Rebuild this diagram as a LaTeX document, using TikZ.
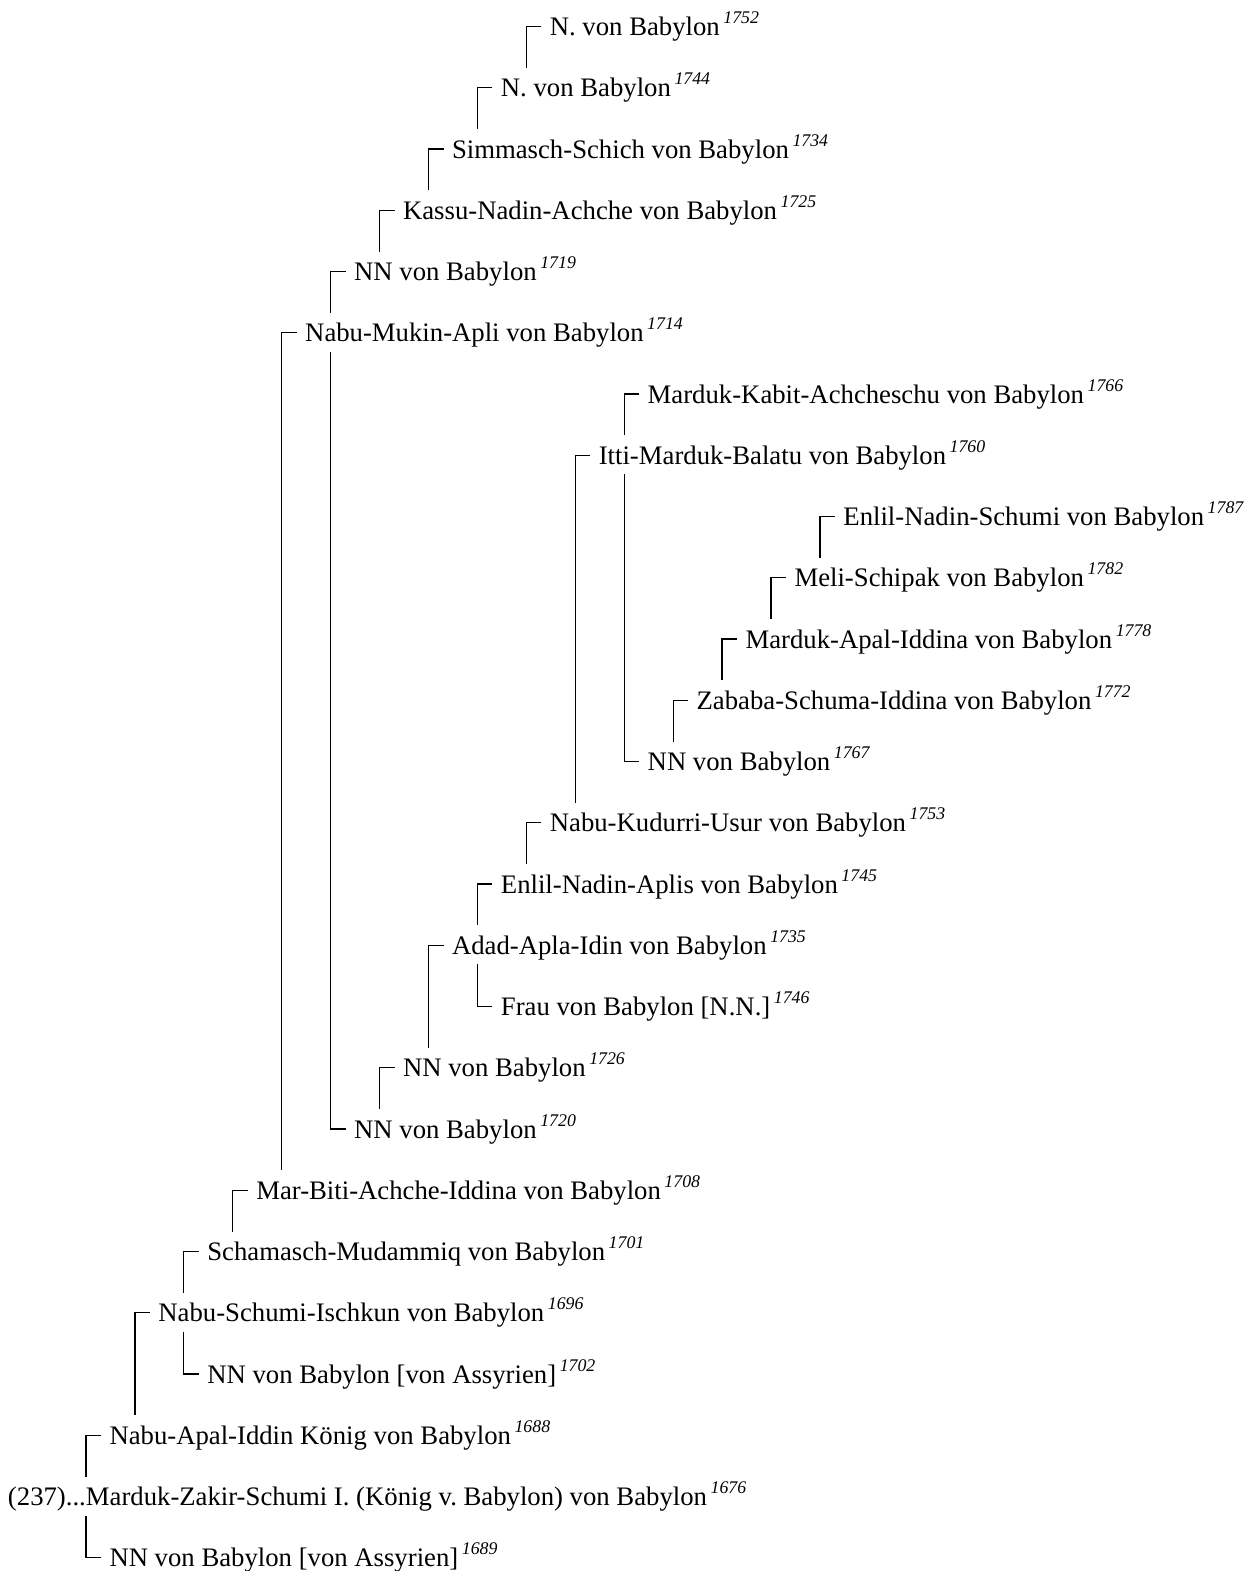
\documentclass[tikz,border=0pt]{standalone}
\usepackage{fontspec}
\setmainfont{Liberation Serif}
\usetikzlibrary{calc}
\frenchspacing
\newcommand\yr[1]{\kern1.8pt\raisebox{6.0pt}{\fontsize{8.9pt}{10pt}\selectfont\itshape #1}}
\newcommand\upcon[2]{%
  \coordinate (cA) at ($(#1.base west)+(-23.5,-9)$);
  \coordinate (cB) at ($(#2.base west)+(0,-29)$);
  \draw[conn] ($(cA)+(15,0)$) -- (cA) -- (cA |- cB);}
\newcommand\downcon[2]{%
  \coordinate (cA) at ($(#1.base west)+(-23.5,-9)$);
  \coordinate (cB) at ($(#2.base west)+(0,10)$);
  \draw[conn] (cA |- cB) -- (cA) -- ($(cA)+(15,0)$);}
\begin{document}
\begin{tikzpicture}[x=0.5pt,y=-0.5pt,
  person/.style={anchor=base west,inner sep=0pt,outer sep=0pt,font=\fontsize{13.36pt}{15pt}\selectfont},
  conn/.style={line width=0.6pt,black}]
\useasboundingbox (0,0) rectangle (1249,1571);
\node[person] (r1) at (549.87,35.5) {N. von Babylon\yr{1752}};
\node[person] (r2) at (500.94,96.75) {N. von Babylon\yr{1744}};
\node[person] (r3) at (452.01,158) {Simmasch-Schich von Babylon\yr{1734}};
\node[person] (r4) at (403.08,219.25) {Kassu-Nadin-Achche von Babylon\yr{1725}};
\node[person] (r5) at (354.15,280.5) {NN von Babylon\yr{1719}};
\node[person] (r6) at (305.22,341.75) {Nabu-Mukin-Apli von Babylon\yr{1714}};
\node[person] (r7) at (647.73,403) {Marduk-Kabit-Achcheschu von Babylon\yr{1766}};
\node[person] (r8) at (598.8,464.25) {Itti-Marduk-Balatu von Babylon\yr{1760}};
\node[person] (r9) at (843.45,525.5) {Enlil-Nadin-Schumi von Babylon\yr{1787}};
\node[person] (r10) at (794.52,586.75) {Meli-Schipak von Babylon\yr{1782}};
\node[person] (r11) at (745.59,648) {Marduk-Apal-Iddina von Babylon\yr{1778}};
\node[person] (r12) at (696.66,709.25) {Zababa-Schuma-Iddina von Babylon\yr{1772}};
\node[person] (r13) at (647.73,770.5) {NN von Babylon\yr{1767}};
\node[person] (r14) at (549.87,831.75) {Nabu-Kudurri-Usur von Babylon\yr{1753}};
\node[person] (r15) at (500.94,893) {Enlil-Nadin-Aplis von Babylon\yr{1745}};
\node[person] (r16) at (452.01,954.25) {Adad-Apla-Idin von Babylon\yr{1735}};
\node[person] (r17) at (500.94,1015.5) {Frau von Babylon [N.N.]\yr{1746}};
\node[person] (r18) at (403.08,1076.75) {NN von Babylon\yr{1726}};
\node[person] (r19) at (354.15,1138) {NN von Babylon\yr{1720}};
\node[person] (r20) at (256.29,1199.25) {Mar-Biti-Achche-Iddina von Babylon\yr{1708}};
\node[person] (r21) at (207.36,1260.5) {Schamasch-Mudammiq von Babylon\yr{1701}};
\node[person] (r22) at (158.43,1321.75) {Nabu-Schumi-Ischkun von Babylon\yr{1696}};
\node[person] (r23) at (207.36,1383) {NN von Babylon [von Assyrien]\yr{1702}};
\node[person] (r24) at (109.5,1444.25) {Nabu-Apal-Iddin König von Babylon\yr{1688}};
\node[person] (r25) at (8,1505.5) {(237)...Marduk-Zakir-Schumi I. (König v. Babylon) von Babylon\yr{1676}};
\node[person] (r26) at (109.5,1566.75) {NN von Babylon [von Assyrien]\yr{1689}};
\upcon{r1}{r2}
\upcon{r2}{r3}
\upcon{r3}{r4}
\upcon{r4}{r5}
\upcon{r5}{r6}
\upcon{r6}{r20}
\upcon{r7}{r8}
\upcon{r8}{r14}
\upcon{r9}{r10}
\upcon{r10}{r11}
\upcon{r11}{r12}
\upcon{r12}{r13}
\upcon{r14}{r15}
\upcon{r15}{r16}
\upcon{r16}{r18}
\upcon{r18}{r19}
\upcon{r20}{r21}
\upcon{r21}{r22}
\upcon{r22}{r24}
\upcon{r24}{r25}
\downcon{r13}{r8}
\downcon{r17}{r16}
\downcon{r19}{r6}
\downcon{r23}{r22}
\downcon{r26}{r25}
\end{tikzpicture}
\end{document}
